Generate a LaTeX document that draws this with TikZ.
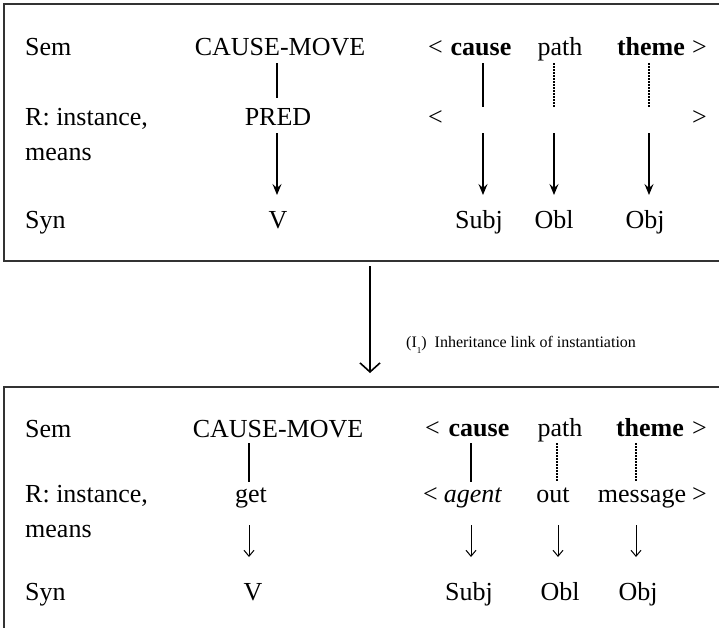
\documentclass[tikz,border=0pt]{standalone}
\usepackage{fontspec}
\setmainfont{Liberation Serif}
\usetikzlibrary{arrows.meta}
\begin{document}
\begin{tikzpicture}[x=1pt,y=-1pt,
  lbl/.style={anchor=base west,inner sep=0pt,font=\fontsize{26}{30}\selectfont},
  wd/.style={anchor=base,inner sep=0pt,font=\fontsize{26}{30}\selectfont},
  frame/.style={draw=black!80,line width=2pt},
  link/.style={line width=1.2pt},
  dotlink/.style={line width=1.2pt,dash pattern=on 1.5pt off 1.5pt},
  toparr/.style={line width=1.4pt,-{Stealth[length=11pt,width=9pt,inset=4pt]}},
  smallarr/.style={line width=1pt,-{Straight Barb[length=6pt,width=10pt]}},
  bigarr/.style={line width=1.6pt,-{Straight Barb[length=9pt,width=20pt,line width=1.6pt]}},
]
\useasboundingbox (0,0) rectangle (719,627);
\clip (0,0) rectangle (719,627);

% frames
\draw[frame] (4,4) rectangle (760,261);
\draw[frame] (4,387) rectangle (760,700);

% ---------- top box ----------
\node[lbl] (sem1) at (25,55) {Sem};
\node[wd] (cm1) at (280,55) {CAUSE-MOVE};
\node[lbl] (lt1) at (428,55) {\textless};
\node[wd] (cause1) at (481,55) {\textbf{cause}};
\node[wd] (path1) at (560,55) {path};
\node[wd] (theme1) at (651,55) {\textbf{theme}};
\node[lbl] (gt1) at (692,55) {\textgreater};
\node[lbl] (ri1) at (25,125) {R: instance,};
\node[lbl] (me1) at (25,160) {means};
\node[wd] (pred) at (278,125) {PRED};
\node[lbl] (lt1b) at (428,125) {\textless};
\node[lbl] (gt1b) at (692,125) {\textgreater};
\node[lbl] (syn1) at (25,228) {Syn};
\node[wd] (v1) at (278,228) {V};
\node[wd] (subj1) at (479,228) {Subj};
\node[wd] (obl1) at (554,228) {Obl};
\node[wd] (obj1) at (645,228) {Obj};

\coordinate (t1a) at (277,63);  \coordinate (t1b) at (277,98);
\coordinate (t2a) at (483,63);  \coordinate (t2b) at (483,107);
\coordinate (t3a) at (554,63);  \coordinate (t3b) at (554,107);
\coordinate (t4a) at (649,63);  \coordinate (t4b) at (649,107);
\draw[link] (t1a) -- (t1b);
\draw[link] (t2a) -- (t2b);
\draw[dotlink] (t3a) -- (t3b);
\draw[dotlink] (t4a) -- (t4b);

\coordinate (u1a) at (277,133); \coordinate (u1b) at (277,195);
\coordinate (u2a) at (483,133); \coordinate (u2b) at (483,195);
\coordinate (u3a) at (554,133); \coordinate (u3b) at (554,195);
\coordinate (u4a) at (649,133); \coordinate (u4b) at (649,195);
\draw[toparr] (u1a) -- (u1b);
\draw[toparr] (u2a) -- (u2b);
\draw[toparr] (u3a) -- (u3b);
\draw[toparr] (u4a) -- (u4b);

% ---------- inheritance link ----------
\coordinate (ia) at (370,266);
\coordinate (ib) at (370,373);
\draw[bigarr] (ia) -- (ib);
\node[anchor=base west,inner sep=0pt,font=\fontsize{16}{18}\selectfont] (inh) at (406,347)
  {(I\raisebox{-6pt}{\fontsize{9}{10}\selectfont 1})\ \ Inheritance link of instantiation};

% ---------- bottom box ----------
\node[lbl] (sem2) at (25,437) {Sem};
\node[wd] (cm2) at (278,437) {CAUSE-MOVE};
\node[lbl] (lt2) at (425,436) {\textless};
\node[wd] (cause2) at (479,436) {\textbf{cause}};
\node[wd] (path2) at (560,436) {path};
\node[wd] (theme2) at (650,436) {\textbf{theme}};
\node[lbl] (gt2) at (692,436) {\textgreater};
\node[lbl] (ri2) at (25,502) {R: instance,};
\node[lbl] (me2) at (25,537) {means};
\node[wd] (get) at (251,502) {get};
\node[lbl] (lt2b) at (423,502) {\textless};
\node[wd] (agent) at (473,502) {\textit{agent}};
\node[wd] (out) at (553,502) {out};
\node[wd] (message) at (642,502) {message};
\node[lbl] (gt2b) at (692,502) {\textgreater};
\node[lbl] (syn2) at (25,600) {Syn};
\node[wd] (v2) at (253,600) {V};
\node[wd] (subj2) at (469,600) {Subj};
\node[wd] (obl2) at (560,600) {Obl};
\node[wd] (obj2) at (638,600) {Obj};

\coordinate (b1a) at (249,443); \coordinate (b1b) at (249,482);
\coordinate (b2a) at (471,443); \coordinate (b2b) at (471,482);
\coordinate (b3a) at (557,443); \coordinate (b3b) at (557,482);
\coordinate (b4a) at (636,443); \coordinate (b4b) at (636,482);
\draw[link] (b1a) -- (b1b);
\draw[link] (b2a) -- (b2b);
\draw[dotlink] (b3a) -- (b3b);
\draw[dotlink] (b4a) -- (b4b);

\coordinate (c1a) at (249,525); \coordinate (c1b) at (249,557);
\coordinate (c2a) at (471,525); \coordinate (c2b) at (471,557);
\coordinate (c3a) at (558,525); \coordinate (c3b) at (558,557);
\coordinate (c4a) at (636,525); \coordinate (c4b) at (636,557);
\draw[smallarr] (c1a) -- (c1b);
\draw[smallarr] (c2a) -- (c2b);
\draw[smallarr] (c3a) -- (c3b);
\draw[smallarr] (c4a) -- (c4b);
\end{tikzpicture}
\end{document}
